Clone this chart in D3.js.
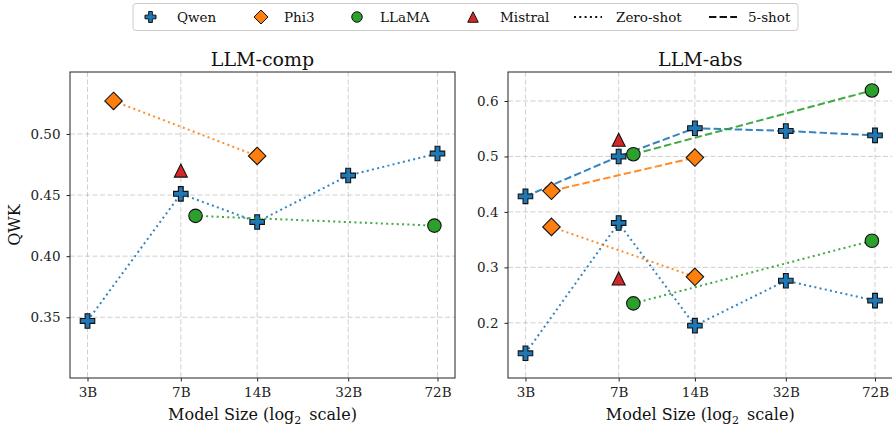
<!DOCTYPE html>
<html>
<head>
<meta charset="utf-8">
<script src="https://cdn.jsdelivr.net/npm/d3@7"></script>
<style>
  body { margin: 0; background: #fff; }
  svg { display: block; font-family: "DejaVu Serif", serif; }
</style>
</head>
<body>
<script>
// model sizes (billions of parameters)
var tickSizes = [3, 7, 14, 32, 72];
var tickLabels = ["3B", "7B", "14B", "32B", "72B"];
var qwenSizes = [3, 7, 14, 32, 72];
var phi3Sizes = [3.8, 14];
var llamaSizes = [8, 70];
var mistralSizes = [7];

// LLM-comp, zero-shot only
var compQwenZero = [0.347, 0.451, 0.428, 0.466, 0.484];
var compPhi3Zero = [0.527, 0.482];
var compLlamaZero = [0.433, 0.425];
var compMistralZero = [0.470];

// LLM-abs
var absQwenZero = [0.145, 0.380, 0.195, 0.276, 0.240];
var absPhi3Zero = [0.373, 0.283];
var absLlamaZero = [0.235, 0.348];
var absMistralZero = [0.280];
var absQwenFive = [0.428, 0.500, 0.551, 0.546, 0.538];
var absPhi3Five = [0.438, 0.498];
var absLlamaFive = [0.504, 0.619];
var absMistralFive = [0.530];

var compTicks = [0.35, 0.40, 0.45, 0.50];
var absTicks = [0.2, 0.3, 0.4, 0.5, 0.6];

var models = {
    Qwen: { color: "#1f77b4", shape: "plus", size: 14.5 },
    Phi3: { color: "#ff7f0e", shape: "diamond", size: 17.5 },
    LLaMA: { color: "#2ca02c", shape: "circle", size: 13.5 },
    Mistral: { color: "#d62728", shape: "triangle", size: 13 }
};
var dashes = { zero: "2,3.3", five: "7.4,3.2" };

var markerPath = function(shape, s) {
    var a = s / 2, b = s / 6;
    if (shape == "plus") {
        return "M" + (-b) + "," + (-a) + "H" + b + "V" + (-b) + "H" + a + "V" + b +
            "H" + b + "V" + a + "H" + (-b) + "V" + b + "H" + (-a) + "V" + (-b) + "H" + (-b) + "Z";
    }
    if (shape == "diamond") {
        return "M0," + (-a) + "L" + a + ",0L0," + a + "L" + (-a) + ",0Z";
    }
    if (shape == "triangle") {
        return "M0," + (-a) + "L" + a + "," + a + "L" + (-a) + "," + a + "Z";
    }
    return d3.symbol(d3.symbolCircle, Math.PI * a * a)();
};

var W = 892, H = 426, plotTop = 72, plotBottom = 378;
var svg = d3.select("body").append("svg")
    .attr("width", W).attr("height", H);

var panels = [
    { title: "LLM-comp", x0: 70, x1: 455, yDomain: [0.3003, 0.5507], yTicks: compTicks, fmt: ".2f",
      series: [
        { model: "Qwen", sizes: qwenSizes, values: compQwenZero, style: "zero" },
        { model: "Phi3", sizes: phi3Sizes, values: compPhi3Zero, style: "zero" },
        { model: "LLaMA", sizes: llamaSizes, values: compLlamaZero, style: "zero" },
        { model: "Mistral", sizes: mistralSizes, values: compMistralZero, style: "zero" }
      ] },
    { title: "LLM-abs", x0: 508, x1: 892.5, yDomain: [0.1005, 0.6523], yTicks: absTicks, fmt: ".1f",
      series: [
        { model: "Qwen", sizes: qwenSizes, values: absQwenZero, style: "zero" },
        { model: "Phi3", sizes: phi3Sizes, values: absPhi3Zero, style: "zero" },
        { model: "LLaMA", sizes: llamaSizes, values: absLlamaZero, style: "zero" },
        { model: "Mistral", sizes: mistralSizes, values: absMistralZero, style: "zero" },
        { model: "Qwen", sizes: qwenSizes, values: absQwenFive, style: "five" },
        { model: "Phi3", sizes: phi3Sizes, values: absPhi3Five, style: "five" },
        { model: "LLaMA", sizes: llamaSizes, values: absLlamaFive, style: "five" },
        { model: "Mistral", sizes: mistralSizes, values: absMistralFive, style: "five" }
      ] }
];

// 5% padding on the log axis, like matplotlib's default margins
var lmin = Math.log2(tickSizes[0]), lmax = Math.log2(tickSizes[tickSizes.length - 1]);
var pad = 0.05 * (lmax - lmin);
var xDomain = [Math.pow(2, lmin - pad), Math.pow(2, lmax + pad)];

panels.forEach(function(p, pi) {
    var x = d3.scaleLog().base(2).domain(xDomain).range([p.x0, p.x1]);
    var y = d3.scaleLinear().domain(p.yDomain).range([plotBottom, plotTop]);
    var g = svg.append("g");

    // grid
    var grid = g.append("g")
        .attr("stroke", "#b0b0b0").attr("stroke-opacity", 0.6)
        .attr("stroke-width", 1).attr("stroke-dasharray", "5,2.5");
    grid.selectAll("line.v").data(tickSizes).join("line").attr("class", "v")
        .attr("x1", function(d) { return x(d); }).attr("x2", function(d) { return x(d); })
        .attr("y1", plotTop).attr("y2", plotBottom);
    grid.selectAll("line.h").data(p.yTicks).join("line").attr("class", "h")
        .attr("x1", p.x0).attr("x2", p.x1)
        .attr("y1", function(d) { return y(d); }).attr("y2", function(d) { return y(d); });

    // series
    p.series.forEach(function(s) {
        var m = models[s.model];
        var pts = s.sizes.map(function(d, i) { return [d, s.values[i]]; });
        if (pts.length > 1) {
            g.append("path").datum(pts)
                .attr("fill", "none").attr("stroke", m.color)
                .attr("stroke-width", 2).attr("stroke-opacity", 0.9)
                .attr("stroke-dasharray", dashes[s.style])
                .attr("d", d3.line().x(function(d) { return x(d[0]); }).y(function(d) { return y(d[1]); }));
        }
        g.selectAll(null).data(pts).join("path")
            .attr("transform", function(d) { return "translate(" + x(d[0]) + "," + y(d[1]) + ")"; })
            .attr("d", markerPath(m.shape, m.size))
            .attr("fill", m.color).attr("stroke", "#111").attr("stroke-width", 1.1);
    });

    // frame
    g.append("rect").attr("x", p.x0).attr("y", plotTop)
        .attr("width", p.x1 - p.x0).attr("height", plotBottom - plotTop)
        .attr("fill", "none").attr("stroke", "#222").attr("stroke-width", 1);

    // axes
    var xa = g.append("g").attr("transform", "translate(0," + plotBottom + ")")
        .call(d3.axisBottom(x).tickValues(tickSizes)
            .tickFormat(function(d, i) { return tickLabels[i]; })
            .tickSize(3.5).tickPadding(6));
    var ya = g.append("g").attr("transform", "translate(" + p.x0 + ",0)")
        .call(d3.axisLeft(y).tickValues(p.yTicks).tickFormat(d3.format(p.fmt))
            .tickSize(3.5).tickPadding(6));
    [xa, ya].forEach(function(a) {
        a.select(".domain").remove();
        a.selectAll("line").attr("stroke", "#222");
        a.selectAll("text").attr("font-family", "DejaVu Serif").attr("font-size", 13.5).attr("fill", "#222");
    });

    // title
    g.append("text").attr("x", (p.x0 + p.x1) / 2).attr("y", 65.5)
        .attr("text-anchor", "middle").attr("font-size", 19).attr("fill", "#111")
        .text(p.title);

    // x label
    var xl = g.append("text").attr("x", (p.x0 + p.x1) / 2).attr("y", 420)
        .attr("text-anchor", "middle").attr("font-size", 16).attr("fill", "#111");
    xl.append("tspan").text("Model Size (log");
    xl.append("tspan").attr("font-size", 11).attr("dy", 3.5).text("2");
    xl.append("tspan").attr("dy", -3.5).text("\u2002scale)");

    if (pi == 0) {
        g.append("text").attr("transform", "translate(20," + ((plotTop + plotBottom) / 2) + ") rotate(-90)")
            .attr("text-anchor", "middle").attr("font-size", 16).attr("fill", "#111")
            .text("QWK");
    }
});

// legend
var legend = svg.append("g");
legend.append("rect").attr("x", 133).attr("y", 3.5).attr("width", 665).attr("height", 27)
    .attr("rx", 3).attr("fill", "#fff").attr("stroke", "#ccc").attr("stroke-width", 1);
var legItems = [
    { label: "Qwen", model: "Qwen", hx: 150.5, tx: 177 },
    { label: "Phi3", model: "Phi3", hx: 261, tx: 284 },
    { label: "LLaMA", model: "LLaMA", hx: 357, tx: 380 },
    { label: "Mistral", model: "Mistral", hx: 473, tx: 500 },
    { label: "Zero-shot", style: "zero", hx: 588, tx: 616 },
    { label: "5-shot", style: "five", hx: 723, tx: 748 }
];
var legSize = { plus: 11, diamond: 14, circle: 10.5, triangle: 10.5 };
legItems.forEach(function(it) {
    if (it.model) {
        var m = models[it.model];
        legend.append("path").attr("transform", "translate(" + it.hx + ",17)")
            .attr("d", markerPath(m.shape, legSize[m.shape]))
            .attr("fill", m.color).attr("stroke", "#111").attr("stroke-width", 1);
    } else {
        legend.append("line").attr("x1", it.hx - 14).attr("x2", it.hx + 14)
            .attr("y1", 17).attr("y2", 17)
            .attr("stroke", "#111").attr("stroke-width", 2)
            .attr("stroke-dasharray", dashes[it.style]);
    }
    legend.append("text").attr("x", it.tx).attr("y", 17).attr("dy", "0.35em")
        .attr("font-size", 13.5).attr("fill", "#111").text(it.label);
});
</script>
</body>
</html>
